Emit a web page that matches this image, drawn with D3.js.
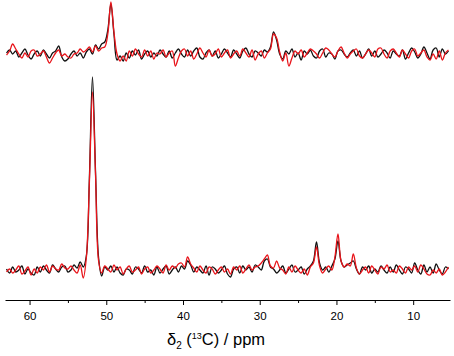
<!DOCTYPE html>
<html>
<head>
<meta charset="utf-8">
<script src="https://cdn.jsdelivr.net/npm/d3@7"></script>
<style>
  body { margin: 0; background: #fff; }
  text { font-family: "Liberation Sans", Arial, sans-serif; }
</style>
</head>
<body>
<div id="chart"></div>
<script>
// chemical shift grid, ppm (63.0 down to 5.4, step 0.4)
var shifts = d3.range(145).map(function(i){ return +(63.0 - 0.4 * i).toFixed(1); });

// upper pair of spectra (intensity, arbitrary units)
var topBlack = [
   1,  4,  0,  3, -3,  1,  5, -1, -5,  0,
   3, -2,  4,  0, -4,  1,  3,  8, -3, -7,
  -5,  0,  3, -2,  1, -4,  2,  5,  0,  9,
   5, 10, 12, 24, 50, 20, -6, -2, -7,  1,
  -4,  3, -1,  4, -5,  0,  3, -3,  1, -2,
   4,  0, -3,  3, -4,  1,  5,  0, -3,  4,
  -2,  3,  6, -3, -5,  1,  4, -2,  3, -4,
   0,  5,  1, -3,  4,  0, -4,  3,  6,  0,
  -3,  3,  1, -2,  4,  2,  7, 22, 14,  0,
  -5,  3,  0,  5, -3,  1, -6,  3,  0,  4,
  -2, -4,  3,  5, -3,  1,  0, -5,  3,  4,
   0, -3,  1,  4, -2,  3, -4,  0,  5, -2,
   3, -3,  0,  4,  1, -4,  3,  0, -2,  4,
  -5,  1,  6,  2, -4,  0,  7,  1, -5,  4,
   6, -3,  5,  0,  3
];
var topRed = [
  -1,  3, 10,  5,  0, -4,  1, -3,  3,  4,
  -2,  0,  3, -3, -9, -4,  1,  4, -2,  0,
  -3, -4,  0,  1,  5,  2,  4,  7,  2,  8,
   3,  6,  7, 20, 52, 22,  0, -7, -2, -7,
   3, -2,  5,  0, -3,  4, -2,  3, -5,  1,
   0,  4, -3,  1,  3,-12, -4,  3,  5, -2,
   3, -5,  0,  6,  1, -3,  4, -2,  0,  5,
  -3,  1,  4, -4,  0,  3, -2,  5,  1, -3,
   4, -6,  0,  3, -4,  1,  5, 20, 16,  2,
  -7,  1,-12, -4,  3,  0,  4, -3,  1,  5,
   3,  0, -4,  1,  6,  4,  0, -3,  3,  7,
   1, -4,  0,  3,  5, -2, -4,  0,  4,  1,
  -3,  5,  6,  0, -4,  3,  5,  1, -3,  4,
   0, -4,  3,  5, -2,  1,  4, -3, -6,  0,
  -5,  3, -6,  1,  4
];

// lower pair of spectra
var botBlack = [
   1, -3,  3, -2,  0,  4, -4,  1, -3, -5,
   3, -2,  4,  0, -3,  5,  1, -2,  3,  4,
  -2,  0,  5,  2,  8,  3, 14, 92,193, 98,
  12, -6,  3,  0,  4, -2,  3, -3, -5,  1,
   0, -4,  3,  1, -3,  4, -2,  0, -5,  3,
  -3,  1,  4, -4,  0,  3, -2,  4,  1,  9,
   5, -2,  3,  0, -3,  4, -5,  3,  1, -3,
   0,  4, -4, -7,  1,  3, -3,  4,  0,  3,
  -2,  5,  3,  0,  9, 11,  3,  1, -3,  0,
   4, -3,  1,  5, -2,  0,  3, -4,  1,  4,
   9, 28,  7,  0,  3, -2,  4, 11, 29,  9,
   3,  5,  7,  9,  1, -4,  3,  0,  4, -3,
   1, -2,  4,  0, -3,  3, -2,  5,  0, -4,
   3,  1, -3,  7,  0, -4,  5, -2,  3, -3,
   6,  0, -4,  3,  1
];
var botRed = [
  -2,  1, -3,  0,  4, -4, -1,  3, -5,  1,
  -3,  3,  0,  5, -2,  4,  1,  0,  6,  2,
   1,  4,  0, -3,  5, -8, 12, 88,178, 95,
   9, -3,  4,  1, -2,  5,  0,  3, -4,  1,
   4, -2,  0,  3, -4,  1,  3, -3,  0,  4,
   1, -3,  5,  0,  4,  2,  6,  7,  3, 13,
   6,  2, -2,  4,  0, -3,  3,  1, -4,  0,
   3, -2,  1, -4,  3,  0,  4, -3,  1,  5,
   0,  3,  4,  7, 11, 15,  4,  2,  9,  2,
   0, -4,  3, -2,  4,  0, -3,  1, -5,  3,
   7, 23,  4, -3,  1,  4,  0, 13, 36,  9,
   3,  6,  4, 16,  2, -4,  0,  3, -3,  4,
   0, -4,  3,  1,  5, -2,  0, -3,  4,  1,
  -3,  3,  0,  4, -2,  5,  1, -4, -5,  0,
  -3,  1, -5, -2,  3
];

var majorTicks = [60, 50, 40, 30, 20, 10];
var minorTicks = [55, 45, 35, 25, 15];

var width = 454;
var height = 356;
var axisY = 300;

var svg = d3.select("#chart")
    .append("svg")
    .attr("width", width)
    .attr("height", height);

// ppm axis runs right to left
var xScale = d3.scaleLinear()
    .domain([63.2, 5.2])
    .range([5, 450]);

var yTop = d3.scaleLinear().domain([0, 50]).range([54, 4]);
var yBot = d3.scaleLinear().domain([0, 200]).range([270, 70]);

function drawTrace(values, yScale, color) {
    var line = d3.line()
        .x(function(d, i){ return xScale(shifts[i]); })
        .y(function(d){ return yScale(d); })
        .curve(d3.curveCatmullRom.alpha(0.5));
    svg.append("path")
        .datum(values)
        .attr("d", line)
        .attr("fill", "none")
        .attr("stroke", color)
        .attr("stroke-width", 1.3)
        .attr("stroke-linejoin", "round");
}

drawTrace(topBlack, yTop, "#111");
drawTrace(topRed, yTop, "#e8141a");
drawTrace(botBlack, yBot, "#111");
drawTrace(botRed, yBot, "#e8141a");

// x axis with major and minor ticks
var xAxis = d3.axisBottom(xScale)
    .tickValues(majorTicks)
    .tickSize(5)
    .tickSizeOuter(0)
    .tickPadding(7)
    .tickFormat(d3.format("d"));

var gx = svg.append("g")
    .attr("transform", `translate(0, ${axisY})`)
    .call(xAxis);
gx.select(".domain").attr("stroke", "#000").attr("stroke-width", 1);
gx.selectAll(".tick line").attr("stroke", "#000");
gx.selectAll(".tick text")
    .attr("fill", "#000")
    .style("font-size", "11.5px");

svg.append("g")
    .attr("transform", `translate(0, ${axisY})`)
    .call(d3.axisBottom(xScale).tickValues(minorTicks).tickSize(3).tickSizeOuter(0).tickFormat(""))
    .call(function(g){ g.select(".domain").remove(); })
    .selectAll(".tick line").attr("stroke", "#000");

// axis title: δ2 (13C) / ppm
var title = svg.append("text")
    .attr("x", 216)
    .attr("y", 345)
    .attr("text-anchor", "middle")
    .style("font-size", "16.5px")
    .attr("fill", "#000");
title.append("tspan").text("δ");
title.append("tspan").attr("dy", 4).style("font-size", "10px").text("2");
title.append("tspan").attr("dy", -4).text(" (");
title.append("tspan").attr("dy", -6).style("font-size", "9px").text("13");
title.append("tspan").attr("dy", 6).text("C) / ppm");
</script>
</body>
</html>
